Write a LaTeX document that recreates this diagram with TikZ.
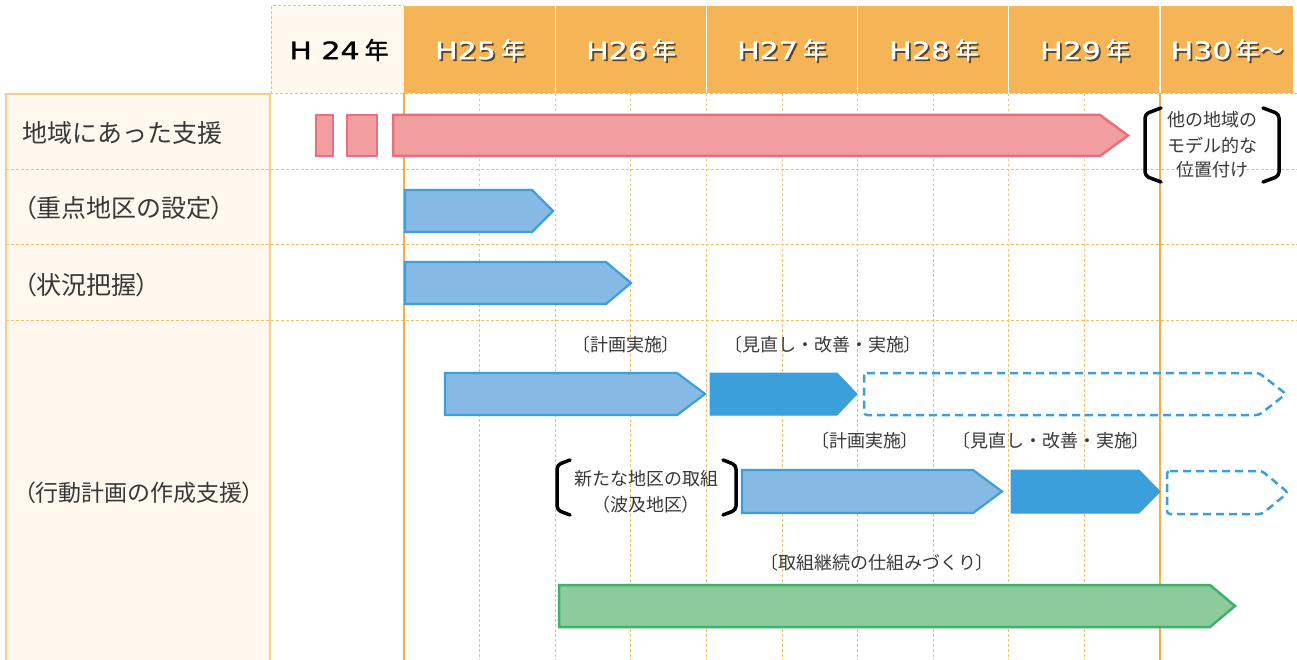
\documentclass[tikz,border=0pt]{standalone}
\usepackage{fontspec}
\setmainfont{Noto Sans CJK JP}
\newfontfamily\jp{Noto Sans CJK JP}
\newfontfamily\jpp{Noto Sans CJK JP}[RawFeature=+palt]
\newfontfamily\hlat{DejaVu Sans}[FakeStretch=1.25,FakeBold=1.3]
\newfontfamily\hjp{Noto Sans CJK JP}[FakeBold=1.3]
\newcommand{\lpar}{{\jpp （}}
\newcommand{\rpar}{{\jpp ）}}
\newcommand{\lbk}{{\jpp 〔}}
\newcommand{\rbk}{{\jpp 〕}}
\definecolor{hdr}{HTML}{F5B556}
\definecolor{cream}{HTML}{FFF8EE}
\definecolor{gridc}{HTML}{F7BE6A}
\definecolor{lborder}{HTML}{F9CD86}
\definecolor{vline}{HTML}{F4AE45}
\definecolor{pinkf}{HTML}{F29EA0}
\definecolor{pinkd}{HTML}{E86F7C}
\definecolor{lbluef}{HTML}{86BAE4}
\definecolor{blued}{HTML}{3A9FDA}
\definecolor{greenf}{HTML}{8DCB9B}
\definecolor{greend}{HTML}{3DB26C}
\definecolor{txt}{HTML}{383838}
\definecolor{shadowc}{HTML}{5A4526}
\newcommand{\pent}[6]{\draw[#1] (#2,#4) -- ({#3-#6},#4) -- (#3,{(#4+#5)/2}) -- ({#3-#6},#5) -- (#2,#5) -- cycle;}
\tikzset{
 gridline/.style={gridc, line width=1pt, dash pattern=on 2.5pt off 2.5pt},
 solidv/.style={vline, line width=1.5pt},
 pinkbar/.style={fill=pinkf, draw=pinkd, line width=2.5pt},
 lbar/.style={fill=lbluef, draw=blued, line width=2.2pt},
 dbar/.style={fill=blued, draw=blued, line width=1pt},
 dashbar/.style={draw=blued, line width=2.5pt, dash pattern=on 8pt off 5pt, rounded corners=3pt},
 gbar/.style={fill=greenf, draw=greend, line width=2.5pt},
 lbl/.style={font=\fontsize{25}{29}\selectfont, text=txt, anchor=west, inner sep=0pt},
 sm/.style={font=\fontsize{18}{22}\selectfont, text=txt, inner sep=0pt},
 brk/.style={line width=3.5pt, line cap=round, line join=round, rounded corners=4pt, black},
 yr/.style={font=\fontsize{24}{28}\selectfont, text=white, inner sep=0pt},
 yrs/.style={font=\fontsize{24}{28}\selectfont, text=shadowc, inner sep=0pt},
 yrb/.style={font=\fontsize{24}{28}\selectfont, text=black, inner sep=0pt},
}
\begin{document}
\begin{tikzpicture}[x=1pt,y=-1pt]
\useasboundingbox (0,0) rectangle (1297,660);
% left column
\fill[cream] (6,94) rectangle (270,662);
% H24 header cell
\fill[cream] (271,6) rectangle (404,93);
\draw[gridline] (271,94) -- (271,6) -- (404,6);
% header
\fill[hdr] (404,6) rectangle (1293,93);
\foreach \x in {555.2,706.4,857.6,1008.8,1160}
  \draw[white, line width=1.2pt] (\x,6) -- (\x,93);
% grid
\foreach \x in {479.6,555.2,630.8,706.4,782,857.6,933.2,1008.8,1084.4}
  \draw[gridline] (\x,94) -- (\x,662);
\draw[gridline] (270,94) -- (1297,94);
\foreach \y in {170,245,320}
  \draw[gridline] (6,\y) -- (1297,\y);
\draw[solidv] (404,93) -- (404,662);
\draw[solidv] (1160,93) -- (1160,662);
\draw[lborder, line width=1.5pt] (6,662) -- (6,94) -- (270,94) -- (270,662);
% header texts
\node[yrb] (h24) at (339,50) {{\hlat H 24}\hspace{5pt}{\hjp 年}};
\foreach \n/\x/\t in {h25/480/25,h26/631/26,h27/782/27,h28/934/28,h29/1085/29}{
  \node[yrs] (\n s) at (\x+1.8,51.8) {{\hlat H\t}\hspace{5pt}{\hjp 年}};
  \node[yr] (\n) at (\x,50) {{\hlat H\t}\hspace{5pt}{\hjp 年}};
}
\node[yrs] (h30s) at (1228.8,51.8) {{\hlat H30}\hspace{4pt}{\hjp 年〜}};
\node[yr] (h30) at (1227,50) {{\hlat H30}\hspace{4pt}{\hjp 年〜}};
% left labels
\node[lbl] (r1) at (22,133) {地域にあった支援};
\node[lbl] (r2) at (24,208) {\lpar 重点地区の設定\rpar};
\node[lbl] (r3) at (24,285) {\lpar 状況把握\rpar};
\node[lbl, font=\fontsize{23}{27}\selectfont] (r4) at (24,493) {\lpar 行動計画の作成支援\rpar};
% row 1 pink
\draw[pinkbar] (316,115) rectangle (333,156);
\draw[pinkbar] (347,115) rectangle (377,156);
\pent{pinkbar}{393}{1128}{115}{156}{28}
\draw[brk] (1161,108) -- (1145,114) -- (1145,176) -- (1161,182);
\draw[brk] (1263,108) -- (1279,114) -- (1279,176) -- (1263,182);
\node[sm] (o1) at (1212,120) {他の地域の};
\node[sm] (o2) at (1212,145) {モデル的な};
\node[sm] (o3) at (1212,170) {位置付け};
% row 2, 3
\pent{lbar}{405}{553}{190}{232}{21}
\pent{lbar}{405}{631}{262}{304}{25}
% row 4 first line
\node[sm] (k1) at (626,345) {\lbk 計画実施\rbk};
\node[sm] (m1) at (823,345) {\lbk 見直し・改善・実施\rbk};
\pent{lbar}{445}{705}{373}{415}{28}
\pent{dbar}{710}{857}{373}{415}{20}
\pent{dashbar}{864}{1286}{373}{415}{27}
% row 4 second line
\node[sm] (k2) at (865,441) {\lbk 計画実施\rbk};
\node[sm] (m2) at (1051,441) {\lbk 見直し・改善・実施\rbk};
\draw[brk] (570,460) -- (557,465) -- (557,510) -- (570,515);
\draw[brk] (723,460) -- (736,465) -- (736,510) -- (723,515);
\node[sm] (n1) at (646,479) {新たな地区の取組};
\node[sm] (n2) at (646,505) {\lpar 波及地区\rpar};
\pent{lbar}{742}{1002}{470}{513}{29}
\pent{dbar}{1011}{1160}{470}{513}{21}
\pent{dashbar}{1167}{1288}{471}{514}{26}
% green
\node[sm] (g1) at (877,563) {\lbk 取組継続の仕組みづくり\rbk};
\pent{gbar}{559}{1235}{585}{627}{25}
\end{tikzpicture}
\end{document}
